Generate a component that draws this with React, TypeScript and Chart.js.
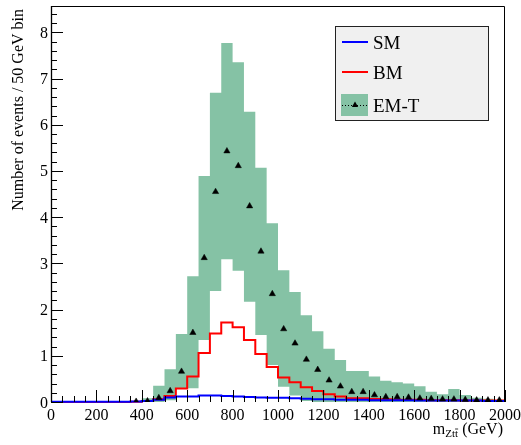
import React, { useEffect, useRef } from "react";
import { Chart, registerables } from "chart.js";

Chart.register(...registerables);

// ---------- data ----------
const BIN_EDGES = [0, 50, 100, 150, 200, 250, 300, 350, 400, 450, 500, 550, 600, 650, 700, 750, 800, 850, 900, 950, 1000, 1050, 1100, 1150, 1200, 1250, 1300, 1350, 1400, 1450, 1500, 1550, 1600, 1650, 1700, 1750, 1800, 1850, 1900, 1950, 2000];

const SM = [0.003, 0.003, 0.003, 0.003, 0.004, 0.005, 0.007, 0.01,
  0.02, 0.05, 0.10, 0.12, 0.12, 0.14, 0.14, 0.13, 0.12, 0.11, 0.10, 0.09, 0.09, 0.08, 0.07, 0.06, 0.06, 0.05, 0.05, 0.05, 0.04, 0.04, 0.04, 0.04, 0.03, 0.03, 0.03, 0.03, 0.03, 0.03, 0.02, 0.02];

const BM = [0, 0, 0, 0, 0, 0, 0, 0.005,
  0.02, 0.06, 0.13, 0.29, 0.55, 1.06, 1.48, 1.72, 1.62, 1.34, 1.04, 0.76, 0.53, 0.43, 0.32, 0.24, 0.17, 0.12, 0.08, 0.08, 0.065, 0.06, 0.05, 0.05, 0.05, 0.04, 0.04, 0.04, 0.03, 0.03, 0.03, 0.03];

const EMT = [null, null, null, null, null, null, null, 0.01,
  0.02, 0.09, 0.24, 0.66, 1.50, 3.12, 4.55, 5.43, 5.11, 4.24, 3.26, 2.34, 1.58, 1.27, 0.92, 0.70, 0.47, 0.34, 0.22, 0.22, 0.15, 0.11, 0.11, 0.10, 0.08, 0.07, 0.06, 0.06, 0.05, 0.04, 0.04, 0.04];

const EMT_UP = [0, 0, 0, 0, 0, 0, 0, 0,
  0.08, 0.35, 0.71, 1.47, 2.72, 4.89, 6.69, 7.77, 7.35, 6.28, 5.07, 3.87, 2.85, 2.38, 1.88, 1.53, 1.15, 0.91, 0.67, 0.67, 0.55, 0.46, 0.43, 0.40, 0.34, 0.22, 0.17, 0.28, 0.15, 0.09, 0.07, 0.11];

const EMT_LO = [0, 0, 0, 0, 0, 0, 0, 0, 0, 0,
  0.04, 0.28, 0.30, 1.34, 2.40, 3.09, 2.84, 2.17, 1.45, 0.80, 0.33, 0.14, 0.02,
  0, 0, 0, 0, 0, 0, 0, 0, 0, 0, 0, 0, 0, 0, 0, 0];

const X_TICK_LABELS = [0, 200, 400, 600, 800, 1000, 1200, 1400, 1600, 1800, 2000];
const Y_TICK_LABELS = [0, 1, 2, 3, 4, 5, 6, 7, 8];
const X_MINOR_STEP = 50;
const Y_MINOR_STEP = 0.2;
const X_MIN = 0;
const X_MAX = 2000;
const Y_MAX = 8.57;

const Y_TITLE = "Number of events / 50 GeV bin";
const LEGEND = [
  { label: "SM", color: "#0000ff", kind: "line" },
  { label: "BM", color: "#ff0000", kind: "line" },
  { label: "EM-T", color: "#85c2a5", kind: "band" },
];

const BAND = "#85c2a5";
const FONT = '"Liberation Serif", "Times New Roman", serif';

function hist(values: number[]) {
  const pts = values.map((v, i) => ({ x: BIN_EDGES[i], y: v }));
  pts.push({ x: BIN_EDGES[values.length], y: values[values.length - 1] });
  return pts;
}

function centers(values: (number | null)[]) {
  return values.map((v, i) => ({ x: (BIN_EDGES[i] + BIN_EDGES[i + 1]) / 2, y: v }));
}

function triangle(ctx: CanvasRenderingContext2D, x: number, y: number, r: number) {
  ctx.beginPath();
  ctx.moveTo(x, y - r);
  ctx.lineTo(x + r * 0.9, y + r * 0.6);
  ctx.lineTo(x - r * 0.9, y + r * 0.6);
  ctx.closePath();
  ctx.fill();
}

const rootPlugin = {
  id: "rootStyle",
  beforeDatasetsDraw(chart: any) {
    const { ctx, chartArea: a } = chart;
    ctx.save();
    ctx.fillStyle = "#ffffff";
    ctx.fillRect(a.left, a.top, a.right - a.left, a.bottom - a.top);
    ctx.restore();
  },
  afterDatasetsDraw(chart: any) {
    const { ctx, chartArea: a, scales } = chart;
    const xs = scales.x;
    const ys = scales.y;
    ctx.save();
    // frame
    ctx.strokeStyle = "#000";
    ctx.lineWidth = 1;
    ctx.beginPath();
    ctx.moveTo(a.left + 0.5, a.top + 0.5);
    ctx.lineTo(a.right - 0.5, a.top + 0.5);
    ctx.lineTo(a.right - 0.5, a.bottom);
    ctx.stroke();
    ctx.lineWidth = 1.3;
    ctx.beginPath();
    ctx.moveTo(a.left + 0.5, a.top);
    ctx.lineTo(a.left + 0.5, a.bottom);
    ctx.stroke();

    // x ticks
    ctx.lineWidth = 1;
    ctx.beginPath();
    for (let v = X_MIN; v <= X_MAX + 1e-6; v += X_MINOR_STEP) {
      const px = Math.round(xs.getPixelForValue(v)) + 0.5;
      const major = X_TICK_LABELS.includes(v);
      ctx.moveTo(px, a.bottom);
      ctx.lineTo(px, a.bottom - (major ? 12 : 6));
    }
    // y ticks
    for (let v = 0; v <= Y_MAX + 1e-6; v += Y_MINOR_STEP) {
      const rv = Math.round(v * 10) / 10;
      const py = Math.round(ys.getPixelForValue(rv)) + 0.5;
      const major = Y_TICK_LABELS.includes(rv);
      ctx.moveTo(a.left, py);
      ctx.lineTo(a.left + (major ? 12 : 6), py);
    }
    ctx.stroke();

    // tick labels
    ctx.fillStyle = "#000";
    ctx.font = `16px ${FONT}`;
    ctx.textAlign = "center";
    ctx.textBaseline = "alphabetic";
    X_TICK_LABELS.forEach((v) => {
      ctx.fillText(String(v), xs.getPixelForValue(v), 420);
    });
    ctx.textAlign = "right";
    Y_TICK_LABELS.forEach((v) => {
      ctx.fillText(String(v), a.left - 3, ys.getPixelForValue(v) + 5.5);
    });

    // y title
    ctx.save();
    ctx.translate(23, a.top + 3);
    ctx.rotate(-Math.PI / 2);
    ctx.textAlign = "right";
    ctx.font = `16px ${FONT}`;
    ctx.fillText(Y_TITLE, 0, 0);
    ctx.restore();

    // x title: m_{Ztt̄} (GeV)
    ctx.textAlign = "left";
    const big = `16px ${FONT}`;
    const small = `11px ${FONT}`;
    ctx.font = big;
    const wGeV = ctx.measureText(" (GeV)").width;
    ctx.font = small;
    const wSub = ctx.measureText("Ztt").width;
    const wT = ctx.measureText("t").width;
    ctx.font = big;
    const wM = ctx.measureText("m").width;
    const endX = 503;
    const x0 = endX - wGeV - wSub - wM;
    ctx.fillText("m", x0, 434);
    ctx.font = small;
    ctx.fillText("Ztt", x0 + wM, 437);
    ctx.lineWidth = 0.8;
    ctx.beginPath();
    ctx.moveTo(x0 + wM + wSub - wT, 429);
    ctx.lineTo(x0 + wM + wSub, 429);
    ctx.stroke();
    ctx.font = big;
    ctx.fillText(" (GeV)", x0 + wM + wSub, 434);

    // legend
    const lx = 335, ly = 26, lw = 153, lh = 94;
    ctx.fillStyle = "#f0f0f0";
    ctx.fillRect(lx, ly, lw, lh);
    ctx.strokeStyle = "#222";
    ctx.lineWidth = 1;
    ctx.strokeRect(lx + 0.5, ly + 0.5, lw, lh);
    const rowsY = [42, 72, 105];
    LEGEND.forEach((e, i) => {
      const cy = rowsY[i];
      if (e.kind === "line") {
        ctx.strokeStyle = e.color;
        ctx.lineWidth = 2;
        ctx.beginPath();
        ctx.moveTo(342, cy);
        ctx.lineTo(368, cy);
        ctx.stroke();
      } else {
        ctx.fillStyle = e.color;
        ctx.fillRect(341, cy - 11, 27, 22);
        ctx.strokeStyle = "#000";
        ctx.lineWidth = 1;
        ctx.setLineDash([1, 2]);
        ctx.beginPath();
        ctx.moveTo(342, cy + 0.5);
        ctx.lineTo(368, cy + 0.5);
        ctx.stroke();
        ctx.setLineDash([]);
        ctx.fillStyle = "#000";
        triangle(ctx, 355, cy, 3.5);
      }
      ctx.fillStyle = "#000";
      ctx.font = `19px ${FONT}`;
      ctx.textAlign = "left";
      ctx.fillText(e.label, 373, cy + 7);
    });
    ctx.restore();
  },
};

export default function App() {
  const ref = useRef<HTMLCanvasElement | null>(null);
  useEffect(() => {
    if (!ref.current) return;
    const chart = new Chart(ref.current, {
      type: "line",
      data: {
        datasets: [
          {
            label: "EM-T up",
            data: hist(EMT_UP),
            stepped: true,
            fill: "+1",
            backgroundColor: BAND,
            borderColor: "rgba(0,0,0,0)",
            borderWidth: 0,
            pointRadius: 0,
            order: 10,
          },
          {
            label: "EM-T low",
            data: hist(EMT_LO),
            stepped: true,
            fill: false,
            borderColor: "rgba(0,0,0,0)",
            borderWidth: 0,
            pointRadius: 0,
            order: 11,
          },
          {
            label: "BM",
            data: hist(BM),
            stepped: true,
            fill: false,
            borderColor: "#ff0000",
            borderWidth: 2,
            pointRadius: 0,
            clip: false,
            order: 3,
          },
          {
            label: "SM",
            data: hist(SM),
            stepped: true,
            fill: false,
            borderColor: "#0000ff",
            borderWidth: 2,
            pointRadius: 0,
            clip: false,
            order: 2,
          },
          {
            label: "EM-T",
            data: centers(EMT),
            showLine: false,
            pointStyle: "triangle",
            pointRadius: 3.6,
            pointBackgroundColor: "#000",
            pointBorderColor: "#000",
            pointBorderWidth: 0.5,
            order: 1,
          },
        ] as any,
      },
      options: {
        animation: false,
        responsive: false,
        devicePixelRatio: 1,
        layout: { padding: { left: 51, right: 16, top: 6, bottom: 43 } },
        scales: {
          x: { type: "linear", min: X_MIN, max: X_MAX, display: false },
          y: { type: "linear", min: 0, max: Y_MAX, display: false },
        },
        plugins: { legend: { display: false }, tooltip: { enabled: false } },
        events: [],
      } as any,
      plugins: [rootPlugin],
    });
    return () => chart.destroy();
  }, []);
  return (
    <div style={{ position: "fixed", left: 0, top: 0, width: 521, height: 445, background: "#fff" }}>
      <canvas ref={ref} width={521} height={445} style={{ display: "block" }} />
    </div>
  );
}
